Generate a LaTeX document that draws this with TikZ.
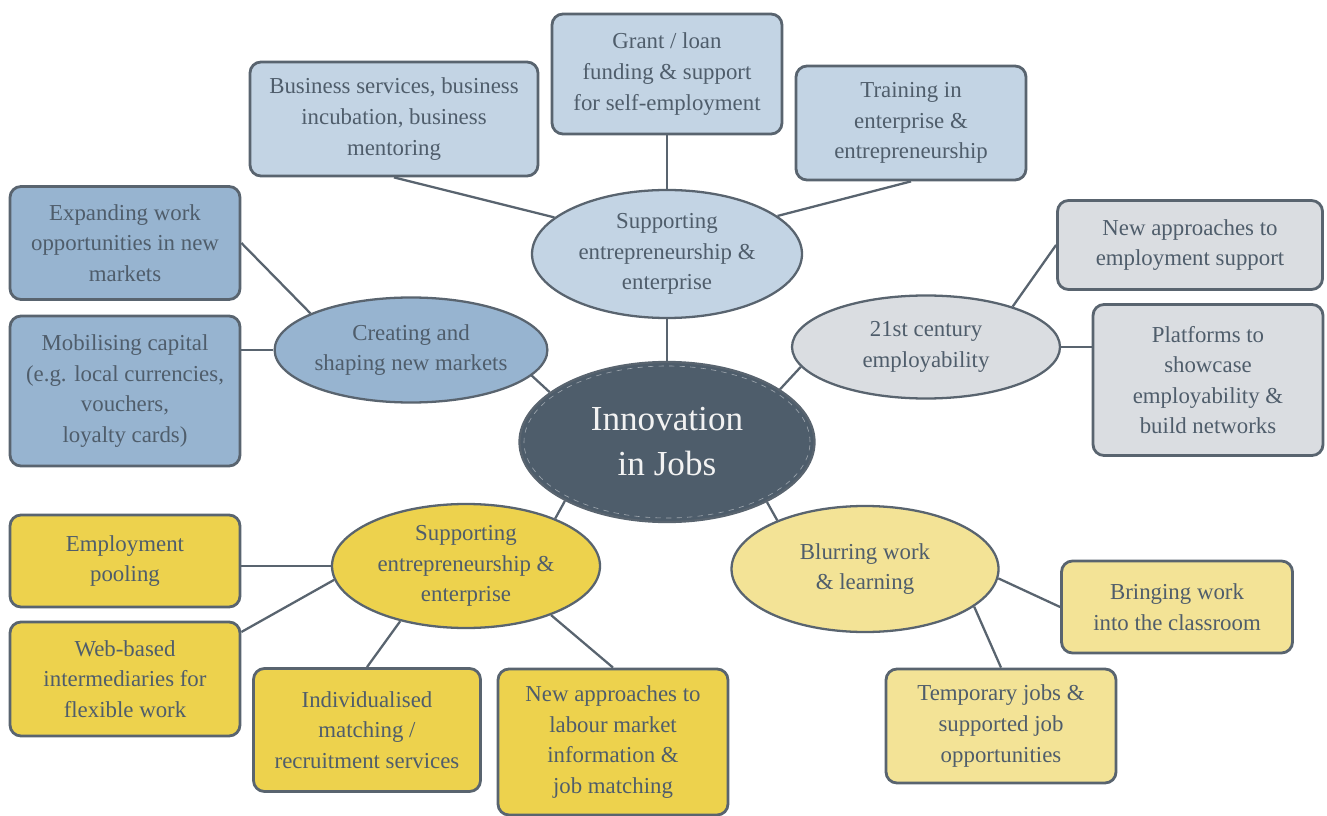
\documentclass[tikz,border=0pt]{standalone}
\usepackage{fontspec}
\setmainfont{Liberation Serif}
\usepackage{xcolor}
\usetikzlibrary{positioning, shapes.geometric}

\definecolor{edgegray}{HTML}{59646F}
\definecolor{textgray}{HTML}{4F5D6B}
\definecolor{hubfill}{HTML}{4E5D6B}
\definecolor{paleblue}{HTML}{C3D4E4}
\definecolor{midblue}{HTML}{97B4D0}
\definecolor{lightgray}{HTML}{DADDE1}
\definecolor{gold}{HTML}{EDD24D}
\definecolor{paleyellow}{HTML}{F3E396}

\tikzset{
    topic/.style={ellipse, draw=edgegray, line width=1.3pt, text=textgray, align=center,
        font=\fontsize{13}{17.4}\selectfont, inner sep=0pt},
    idea/.style={rectangle, rounded corners=0.22cm, draw=edgegray, line width=1.6pt,
        text=textgray, align=center, font=\fontsize{13}{17.4}\selectfont, inner sep=2pt},
    link/.style={draw=edgegray, line width=1.3pt}
}

\begin{document}
\begin{tikzpicture}
    \useasboundingbox (0,0) rectangle (26.54,-16.32);

    % centre of the map
    \node (hub) [ellipse, fill=hubfill, draw=edgegray, line width=1.3pt, minimum width=5.9cm,
        minimum height=3.2cm, text=white!95!black, align=center,
        font=\fontsize{20}{25.6}\selectfont] at (13.34,-8.84) {Innovation\\in Jobs};
    \draw [white!45!hubfill, dashed, line width=0.35pt] (hub.center) ellipse (2.86cm and 1.52cm);

    % the five topics round it
    \node (ent) [topic, fill=paleblue, minimum width=5.4cm, minimum height=2.56cm]
        at (13.34,-5.08) {Supporting\\entrepreneurship \&\\enterprise};
    \node (market) [topic, fill=midblue, minimum width=5.36cm, minimum height=2.1cm]
        at (8.22,-7.0) {Creating and\\shaping new markets};
    \node (empl) [topic, fill=lightgray, minimum width=5.36cm, minimum height=2.06cm]
        at (18.52,-6.94) {21st century\\employability};
    \node (ent2) [topic, fill=gold, minimum width=5.36cm, minimum height=2.48cm]
        at (9.32,-11.32) {Supporting\\entrepreneurship \&\\enterprise};
    \node (blur) [topic, fill=paleyellow, minimum width=5.34cm, minimum height=2.52cm]
        at (17.3,-11.38) {Blurring work\\\& learning};

    % boxes of the top topic
    \node (biz) [idea, fill=paleblue, minimum width=5.76cm, minimum height=2.28cm]
        at (7.88,-2.38) {Business services, business\\incubation, business\\mentoring};
    \node (grant) [idea, fill=paleblue, minimum width=4.6cm, minimum height=2.4cm]
        at (13.34,-1.48) {Grant / loan\\funding \& support\\for self-employment};
    \node (train) [idea, fill=paleblue, minimum width=4.6cm, minimum height=2.28cm]
        at (18.22,-2.46) {Training in\\enterprise \&\\entrepreneurship};

    % boxes of the markets topic
    \node (expand) [idea, fill=midblue, minimum width=4.6cm, minimum height=2.26cm]
        at (2.5,-4.86) {Expanding work\\opportunities in new\\markets};
    \node (mob) [idea, fill=midblue, minimum width=4.6cm, minimum height=3.0cm]
        at (2.5,-7.82) {Mobilising capital\\(e.g. local currencies,\\vouchers,\\loyalty cards)};

    % boxes of the employability topic
    \node (newsup) [idea, fill=lightgray, minimum width=5.3cm, minimum height=1.78cm]
        at (23.8,-4.9) {New approaches to\\employment support};
    \node (plat) [idea, fill=lightgray, minimum width=4.6cm, minimum height=3.02cm]
        at (24.16,-7.6) {Platforms to\\showcase\\employability \&\\build networks};

    % boxes of the lower left topic
    \node (pool) [idea, fill=gold, minimum width=4.6cm, minimum height=1.84cm]
        at (2.5,-11.22) {Employment\\pooling};
    \node (web) [idea, fill=gold, minimum width=4.6cm, minimum height=2.28cm]
        at (2.5,-13.58) {Web-based\\intermediaries for\\flexible work};
    \node (indiv) [idea, fill=gold, minimum width=4.54cm, minimum height=2.46cm]
        at (7.34,-14.6) {Individualised\\matching /\\recruitment services};
    \node (labour) [idea, fill=gold, minimum width=4.6cm, minimum height=2.92cm]
        at (12.26,-14.84) {New approaches to\\labour market\\information \&\\job matching};

    % boxes of the lower right topic
    \node (bring) [idea, fill=paleyellow, minimum width=4.62cm, minimum height=1.84cm]
        at (23.54,-12.14) {Bringing work\\into the classroom};
    \node (temp) [idea, fill=paleyellow, minimum width=4.6cm, minimum height=2.28cm]
        at (20.02,-14.52) {Temporary jobs \&\\supported job\\opportunities};

    % topics to the centre
    \draw [link] (ent.south) -- (hub.north);
    \draw [link] (market.-12) -- (hub.157);
    \draw [link] (empl.189) -- (hub.25);
    \draw [link] (ent2.28) -- (hub.210);
    \draw [link] (blur.151) -- (hub.-31);

    % boxes to their topics
    \draw [link] (biz.south) -- (ent.162);
    \draw [link] (grant.south) -- (ent.north);
    \draw [link] (train.south) -- (ent.19);
    \draw [link] (expand.east) -- (market.160);
    \draw [link] (market.west) -- (market.west -| mob.east);
    \draw [link] (newsup.west) -- (empl.25);
    \draw [link] (empl.east) -- (empl.east -| plat.west);
    \draw [link] (ent2.west) -- (ent2.west -| pool.east);
    \draw [link] (web.22) -- (ent2.186);
    \draw [link] (indiv.north) -- (ent2.220);
    \draw [link] (labour.north) -- (ent2.-30);
    \draw [link] (blur.-4) -- (bring.west);
    \draw [link] (blur.-19) -- (temp.north);
\end{tikzpicture}
\end{document}
